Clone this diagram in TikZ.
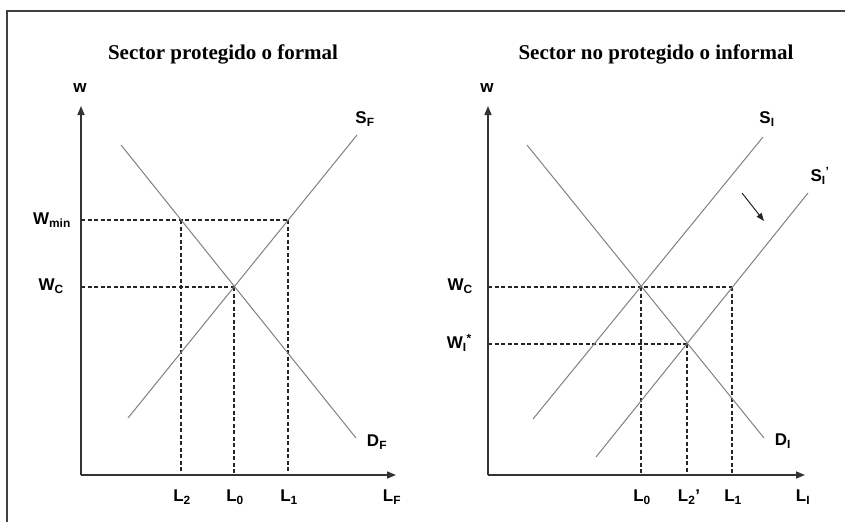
\documentclass[tikz,border=0pt]{standalone}
\usepackage{fontspec}
\setmainfont{Liberation Serif}
\setsansfont{Liberation Sans}
\usetikzlibrary{arrows.meta}

\begin{document}
\begin{tikzpicture}[x=1pt,y=-1pt,
  axis/.style={draw=black!80,line width=1.6pt,-{Triangle[length=9pt,width=7pt]}},
  curve/.style={draw=black!50,line width=1pt},
  guide/.style={draw=black!85,line width=1.1pt,dash pattern=on 4pt off 2.5pt},
  lab/.style={font=\sffamily\bfseries\fontsize{17}{19}\selectfont,inner sep=0pt},
  ttl/.style={font=\bfseries\fontsize{21}{24}\selectfont}]
  \useasboundingbox (0,0) rectangle (845,522);
  \draw[black!75,line width=1.5pt] (7,522) -- (7,11) -- (845,11);

  % formal sector
  \node[ttl] (titleF) at (223,54) {Sector protegido o formal};
  \coordinate (oF) at (81,475);
  \coordinate (topF) at (81,106);
  \coordinate (endF) at (396,475);
  \node[lab] (wF) at (80,88) {w};
  \node[lab] (LF) at (392,497) {L\textsubscript{F}};
  \coordinate (sF1) at (128,418); \coordinate (sF2) at (357,135);
  \coordinate (dF1) at (121,145); \coordinate (dF2) at (356,438);
  \node[lab] (SF) at (365,119) {S\textsubscript{F}};
  \node[lab] (DF) at (377,442) {D\textsubscript{F}};
  \coordinate (eF) at (234,287);
  \coordinate (mD) at (181,220); \coordinate (mS) at (288,220);
  \coordinate (wminF) at (81,220); \coordinate (wcF) at (81,287);
  \coordinate (x2F) at (181,475); \coordinate (x0F) at (234,475); \coordinate (x1F) at (288,475);
  \node[lab,anchor=east] (Wmin) at (71,220) {W\textsubscript{min}};
  \node[lab,anchor=east] (WcF) at (64,286) {W\textsubscript{C}};
  \node[lab] (L2F) at (182,497) {L\textsubscript{2}};
  \node[lab] (L0F) at (235,497) {L\textsubscript{0}};
  \node[lab] (L1F) at (289,497) {L\textsubscript{1}};

  \draw[guide] (wminF) -- (mS) (wcF) -- (eF);
  \draw[guide] (mD) -- (x2F) (eF) -- (x0F) (mS) -- (x1F);
  \draw[curve] (sF1) -- (sF2) (dF1) -- (dF2);
  \draw[axis] (oF) -- (topF);
  \draw[axis] (oF) -- (endF);

  % informal sector
  \node[ttl] (titleI) at (656,54) {Sector no protegido o informal};
  \coordinate (oI) at (488,475);
  \coordinate (topI) at (488,106);
  \coordinate (endI) at (805,475);
  \node[lab] (wI) at (487,88) {w};
  \node[lab] (LI) at (803,497) {L\textsubscript{I}};
  \coordinate (sI1) at (533,419); \coordinate (sI2) at (763,137);
  \coordinate (tI1) at (596,457); \coordinate (tI2) at (808,193);
  \coordinate (dI1) at (527,145); \coordinate (dI2) at (764,438);
  \node[lab] (SI) at (767,119) {S\textsubscript{I}};
  \node[lab] (SIp) at (820,176) {S\textsubscript{I}\textsuperscript{'}};
  \node[lab] (DI) at (783,441) {D\textsubscript{I}};
  \coordinate (eI) at (641,287); \coordinate (nI) at (687,344); \coordinate (oS) at (732,287);
  \coordinate (wcI) at (488,287); \coordinate (wsI) at (488,344);
  \coordinate (x0I) at (641,475); \coordinate (x2I) at (687,475); \coordinate (x1I) at (732,475);
  \node[lab,anchor=east] (WcI) at (473,286) {W\textsubscript{C}};
  \node[lab,anchor=east] (WsI) at (472,343) {W\textsubscript{I}\textsuperscript{*}};
  \node[lab] (L0I) at (642,497) {L\textsubscript{0}};
  \node[lab] (L2I) at (689,497) {L\textsubscript{2}'};
  \node[lab] (L1I) at (733,497) {L\textsubscript{1}};
  \coordinate (shA) at (742,193); \coordinate (shB) at (764,221);

  \draw[guide] (wcI) -- (oS) (wsI) -- (nI);
  \draw[guide] (eI) -- (x0I) (nI) -- (x2I) (oS) -- (x1I);
  \draw[curve] (sI1) -- (sI2) (tI1) -- (tI2) (dI1) -- (dI2);
  \draw[black!85,line width=1pt,-{Triangle[length=8pt,width=6pt]}] (shA) -- (shB);
  \draw[axis] (oI) -- (topI);
  \draw[axis] (oI) -- (endI);
\end{tikzpicture}
\end{document}
